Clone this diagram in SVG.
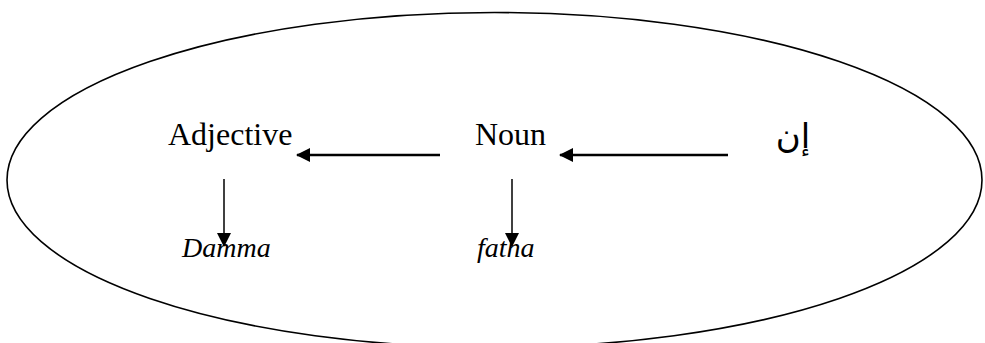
<svg xmlns="http://www.w3.org/2000/svg" width="985" height="343" viewBox="0 0 985 343">
<style>
.t{font-family:"Liberation Serif","Times New Roman",serif;fill:#000}
.n{font-size:32px}
.i{font-size:28px;font-style:italic}
.ar{font-family:"DejaVu Sans","Noto Sans",sans-serif;font-size:34px}
.c{stroke:#000;fill:none}
</style>
<defs>
<marker id="ah" markerUnits="userSpaceOnUse" markerWidth="14" markerHeight="14" viewBox="0 0 14 14" refX="13" refY="7" orient="auto">
<path d="M0,0 L14,7 L0,14 Z" fill="#000"/>
</marker>
</defs>
<ellipse cx="494.5" cy="180" rx="487.5" ry="167.5" fill="none" stroke="#000" stroke-width="1.6"/>
<g id="adjective"><text class="t n" x="168" y="145">Adjective</text></g>
<g id="noun"><text class="t n" x="475" y="145">Noun</text></g>
<g id="inna"><text class="ar" x="793" y="148" text-anchor="middle" direction="rtl">إن</text></g>
<g id="damma"><text class="t i" x="182" y="257">Damma</text></g>
<g id="fatha"><text class="t i" x="477" y="257">fatha</text></g>
<g id="connectors">
<line class="c" x1="440" y1="155" x2="297" y2="155" stroke-width="2.6" marker-end="url(#ah)"/>
<line class="c" x1="728" y1="155" x2="560" y2="155" stroke-width="2.6" marker-end="url(#ah)"/>
<line class="c" x1="224" y1="179" x2="224" y2="246" stroke-width="1.5" marker-end="url(#ah)"/>
<line class="c" x1="512" y1="179" x2="512" y2="246" stroke-width="1.5" marker-end="url(#ah)"/>
</g>
</svg>
